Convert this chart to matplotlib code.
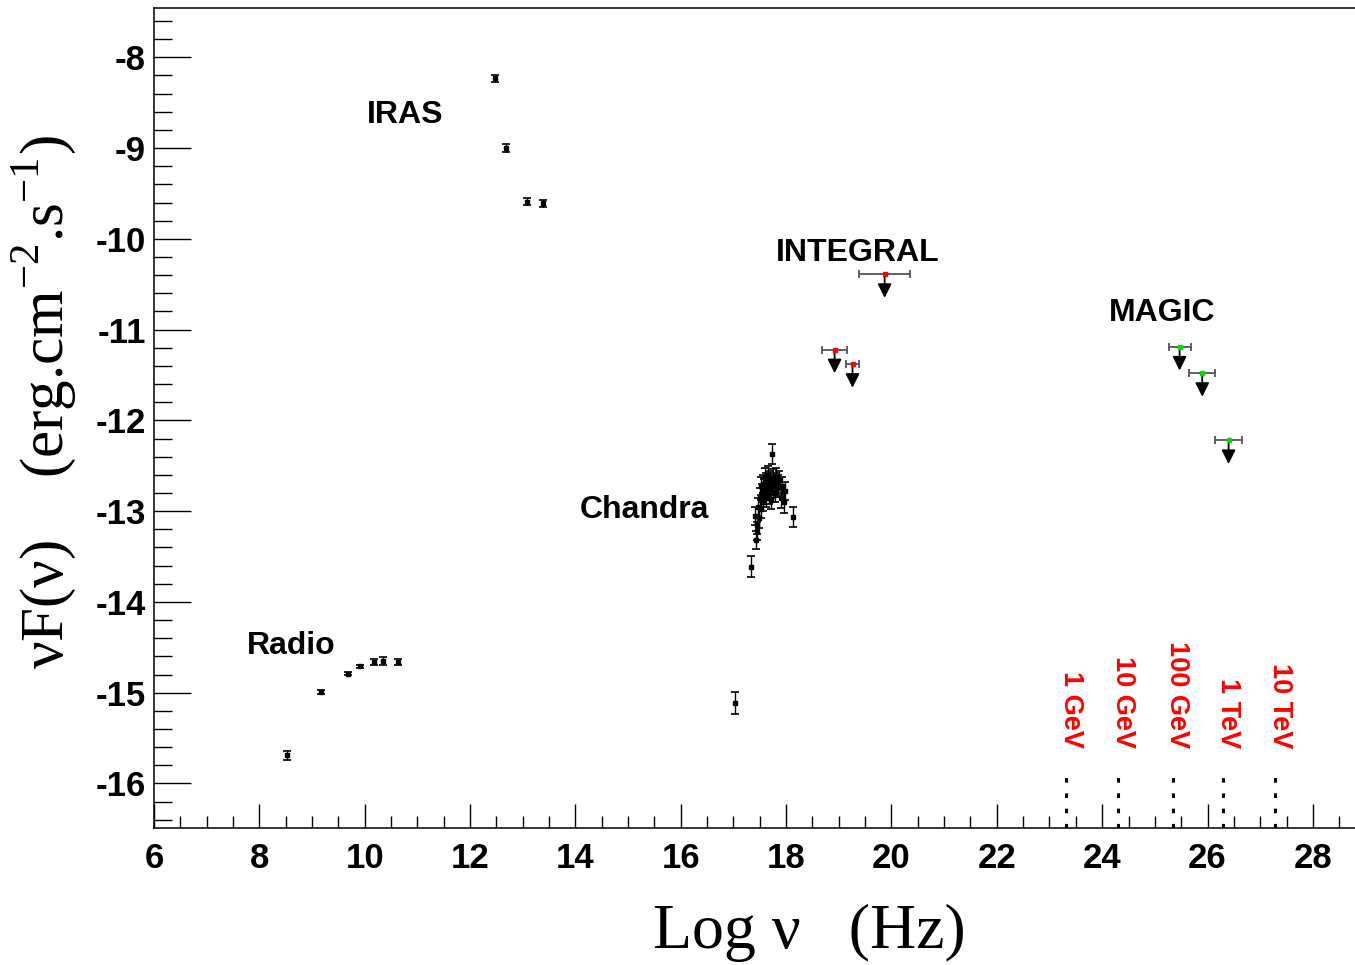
import matplotlib
matplotlib.use("Agg")
import matplotlib.pyplot as plt
from matplotlib.ticker import MultipleLocator

plt.rcParams["font.family"] = ["Liberation Sans", "DejaVu Sans"]
plt.rcParams["mathtext.fontset"] = "custom"
plt.rcParams["mathtext.rm"] = "Liberation Serif"

# --- data (log nu [Hz], log nuF(nu) [erg cm^-2 s^-1]) ---
radio_x = [8.52, 9.17, 9.68, 9.91, 10.17, 10.35, 10.63]
radio_y = [-15.69, -14.99, -14.79, -14.71, -14.66, -14.65, -14.66]
radio_err = [0.05, 0.02, 0.02, 0.02, 0.035, 0.04, 0.035]

iras_x = [12.47, 12.68, 13.08, 13.38]
iras_y = [-8.23, -9.00, -9.59, -9.61]
iras_err = [0.04, 0.04, 0.04, 0.04]

chandra_x = [17.03, 17.33, 17.40, 17.42, 17.44, 17.45, 17.47, 17.48, 17.50, 17.52,
             17.53, 17.55, 17.56, 17.57, 17.58, 17.60, 17.61, 17.62, 17.63, 17.64,
             17.66, 17.67, 17.68, 17.70, 17.71, 17.72, 17.74, 17.75, 17.76, 17.78,
             17.79, 17.81, 17.83, 17.85, 17.87, 17.90, 17.92, 17.95, 17.98, 18.13]
chandra_y = [-15.11, -13.61, -13.05, -13.32, -13.22, -13.15, -12.95, -13.08, -12.85, -12.72,
             -12.98, -12.80, -12.70, -12.90, -12.75, -12.62, -12.85, -12.68, -12.78, -12.72,
             -12.60, -12.82, -12.70, -12.66, -12.88, -12.75, -12.37, -12.64, -12.72, -12.80,
             -12.68, -12.62, -12.74, -12.70, -12.66, -12.85, -12.72, -12.90, -12.78, -13.06]
chandra_err = [0.12, 0.12, 0.10, 0.10, 0.10, 0.10, 0.10, 0.10, 0.10, 0.10,
               0.10, 0.10, 0.10, 0.10, 0.10, 0.10, 0.10, 0.10, 0.10, 0.10,
               0.10, 0.10, 0.10, 0.10, 0.10, 0.10, 0.11, 0.10, 0.10, 0.10,
               0.10, 0.10, 0.10, 0.10, 0.10, 0.12, 0.10, 0.12, 0.10, 0.11]

integral_x = [18.92, 19.26, 19.87]
integral_y = [-11.22, -11.38, -10.39]
integral_xerr = [0.24, 0.12, 0.49]

magic_x = [25.47, 25.90, 26.40]
magic_y = [-11.19, -11.48, -12.22]
magic_xerr = [0.21, 0.25, 0.26]

energy_labels = ["1 GeV", "10 GeV", "100 GeV", "1 TeV", "10 TeV"]
energy_x = [23.32, 24.31, 25.34, 26.30, 27.29]

fig = plt.figure(figsize=(13.55, 9.65), dpi=100)
ax = fig.add_axes([0.1137, 0.1420, 0.8863, 0.8497])
ax.set_xlim(6, 28.8)
ax.set_ylim(-16.49, -7.457)

eb = dict(fmt="s", color="black", ms=3.0, lw=1.0, capsize=3, capthick=1.2)
ax.errorbar(radio_x, radio_y, yerr=radio_err, **eb)
ax.errorbar(iras_x, iras_y, yerr=iras_err, **eb)
ax.errorbar(chandra_x, chandra_y, yerr=chandra_err, **eb)

ul_drop = 0.26
for xs, ys, xe, col in ((integral_x, integral_y, integral_xerr, "#ff0000"),
                        (magic_x, magic_y, magic_xerr, "#00dd00")):
    ax.errorbar(xs, ys, xerr=xe, fmt="none", ecolor="#555555", lw=1.3, capsize=3, capthick=1.3)
    for x, y in zip(xs, ys):
        ax.annotate("", xy=(x, y - ul_drop), xytext=(x, y),
                    arrowprops=dict(arrowstyle="-|>", color="black", lw=1.3,
                                    mutation_scale=21, shrinkA=0, shrinkB=0))
    ax.plot(xs, ys, "s", color=col, ms=3.5, zorder=5)

# instrument labels
lab = dict(fontsize=23, fontweight="bold", ha="left", va="baseline")
ax.text(10.04, -8.72, "IRAS", **lab)
ax.text(17.80, -10.24, "INTEGRAL", **lab)
ax.text(24.12, -10.91, "MAGIC", **lab)
ax.text(14.08, -13.08, "Chandra", **lab)
ax.text(7.76, -14.57, "Radio", **lab)

# energy markers
for x, t in zip(energy_x, energy_labels):
    ax.vlines(x, -16.49, -15.89, color="black", lw=2.2, linestyles=(0, (1.5, 3.5)))
    ax.text(x + 0.08, -15.61, t, color="#ff0000", fontsize=19.5, fontweight="bold",
            rotation=-90, rotation_mode="anchor", ha="right", va="center")

# ROOT-like axes
ax.spines["right"].set_visible(False)
for s in ("left", "bottom", "top"):
    ax.spines[s].set_linewidth(1.1)
ax.xaxis.set_major_locator(MultipleLocator(2))
ax.xaxis.set_minor_locator(MultipleLocator(0.5))
ax.yaxis.set_major_locator(MultipleLocator(1))
ax.yaxis.set_minor_locator(MultipleLocator(0.2))
ax.tick_params(axis="x", which="major", direction="in", length=17, width=1.0, pad=10,
               top=False, labelsize=25)
ax.tick_params(axis="x", which="minor", direction="in", length=8.5, width=1.0, top=False)
ax.tick_params(axis="y", which="major", direction="in", length=26.5, width=1.0, pad=6,
               right=False, labelsize=25)
ax.tick_params(axis="y", which="minor", direction="in", length=13, width=1.0, right=False)
ax.set_yticks([-16, -15, -14, -13, -12, -11, -10, -9, -8])
ax.set_yticklabels(["-16", "-15", "-14", "-13", "-12", "-11", "-10", "-9", "-8"])
for t in ax.get_xticklabels() + ax.get_yticklabels():
    t.set_fontweight("bold")

fig.text(0.597, 0.018, "Log ν   (Hz)", fontsize=46, family="Liberation Serif",
         ha="center", va="baseline")
fig.text(0.033, 0.583, r"νF(ν)    (erg.cm$^{-2}$.s$^{-1}$)", fontsize=44,
         family="Liberation Serif", rotation=90, ha="center", va="center")

fig.savefig("out.png", dpi=100)
print("wrote out.png")
